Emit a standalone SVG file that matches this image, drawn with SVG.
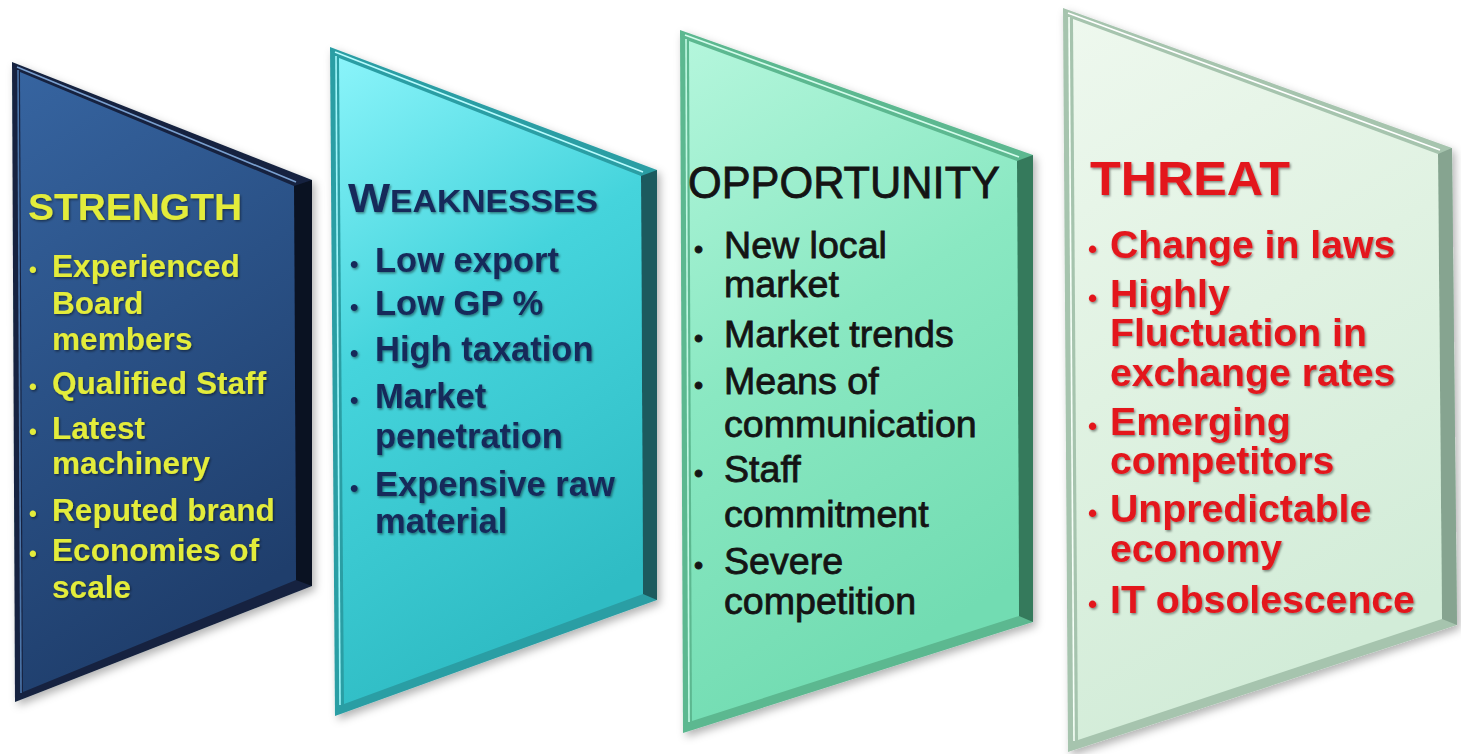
<svg xmlns="http://www.w3.org/2000/svg" width="1461" height="754" viewBox="0 0 1461 754">
<defs>
<style>
.t1{font-family:"Liberation Sans",Arial,sans-serif;font-weight:bold;fill:#e3ec3a}
.t2{font-family:"Liberation Sans",Arial,sans-serif;font-weight:bold;fill:#15295a}
.t3{font-family:"Liberation Sans",Arial,sans-serif;fill:#141414;stroke:#141414;stroke-width:0.8}
.t4{font-family:"Liberation Sans",Arial,sans-serif;font-weight:bold;fill:#e3191f}
.hl{fill:none;stroke-width:1.6}
</style>
<linearGradient id="g1" x1="0" y1="0" x2="0.3" y2="1">
<stop offset="0" stop-color="#3664a0"/><stop offset="0.5" stop-color="#2a5186"/><stop offset="1" stop-color="#1f3e6c"/>
</linearGradient>
<linearGradient id="g2" x1="0" y1="0" x2="0.3" y2="1">
<stop offset="0" stop-color="#8af4fa"/><stop offset="0.45" stop-color="#45d4dc"/><stop offset="1" stop-color="#2fbcc4"/>
</linearGradient>
<linearGradient id="g3" x1="0" y1="0" x2="0.3" y2="1">
<stop offset="0" stop-color="#b4f6dc"/><stop offset="0.5" stop-color="#8ae8c2"/><stop offset="1" stop-color="#72dcb2"/>
</linearGradient>
<linearGradient id="g4" x1="0" y1="0" x2="0.3" y2="1">
<stop offset="0" stop-color="#eef8ee"/><stop offset="0.5" stop-color="#e0f2e2"/><stop offset="1" stop-color="#d2ecd8"/>
</linearGradient>
<filter id="sh" x="-10%" y="-10%" width="130%" height="130%">
<feDropShadow dx="3" dy="4" stdDeviation="4" flood-color="#000" flood-opacity="0.3"/>
</filter>
<filter id="ts" x="-5%" y="-10%" width="115%" height="130%">
<feDropShadow dx="1.2" dy="1.5" stdDeviation="0.8" flood-color="#000" flood-opacity="0.45"/>
</filter>
</defs>
<rect width="1461" height="754" fill="#ffffff"/>

<g id="strength">
<polygon points="12,62 312,180 312,586 15,702" fill="#14243f" filter="url(#sh)"/>
<polygon points="294,186 312,180 312,586 296,580" fill="#0a1222"/>
<polygon points="20,72 294,186 296,580 23,692" fill="url(#g1)"/>
<polyline class="hl" points="17,67 296,182" stroke="#7aa0d0"/>
<polyline class="hl" points="18,70 21,693" stroke="#4c76aa"/>
<g filter="url(#ts)">
<text class="t1" x="28" y="220" font-size="37" textLength="214" lengthAdjust="spacingAndGlyphs">STRENGTH</text>
<g font-size="31.6">
<text class="t1" x="29" y="277" font-size="22">•</text>
<text class="t1" x="52" y="277">Experienced</text>
<text class="t1" x="52" y="314">Board</text>
<text class="t1" x="52" y="350">members</text>
<text class="t1" x="29" y="394" font-size="22">•</text>
<text class="t1" x="52" y="394">Qualified Staff</text>
<text class="t1" x="29" y="439" font-size="22">•</text>
<text class="t1" x="52" y="439">Latest</text>
<text class="t1" x="52" y="474">machinery</text>
<text class="t1" x="29" y="521" font-size="22">•</text>
<text class="t1" x="52" y="521">Reputed brand</text>
<text class="t1" x="29" y="561" font-size="22">•</text>
<text class="t1" x="52" y="561">Economies of</text>
<text class="t1" x="52" y="598">scale</text>
</g>
</g>
</g>

<g id="weaknesses">
<polygon points="330,47 657,170 657,600 335,716" fill="#2c9ea4" filter="url(#sh)"/>
<polygon points="641,176 657,170 657,600 643,594" fill="#1c5a5e"/>
<polygon points="339,58 641,176 643,594 344,704" fill="url(#g2)"/>
<polyline class="hl" points="335,52 643,172" stroke="#b8fcfe"/>
<polyline class="hl" points="336,56 340,705" stroke="#a0f6fa"/>
<g filter="url(#ts)">
<text class="t2" x="348" y="212" textLength="250" lengthAdjust="spacingAndGlyphs"><tspan font-size="41">W</tspan><tspan font-size="31">EAKNESSES</tspan></text>
<g font-size="34.5">
<text class="t2" x="350" y="272" font-size="24">•</text>
<text class="t2" x="375" y="272">Low export</text>
<text class="t2" x="350" y="315" font-size="24">•</text>
<text class="t2" x="375" y="315">Low GP %</text>
<text class="t2" x="350" y="361" font-size="24">•</text>
<text class="t2" x="375" y="361">High taxation</text>
<text class="t2" x="350" y="408" font-size="24">•</text>
<text class="t2" x="375" y="408">Market</text>
<text class="t2" x="375" y="448">penetration</text>
<text class="t2" x="350" y="496" font-size="24">•</text>
<text class="t2" x="375" y="496">Expensive raw</text>
<text class="t2" x="375" y="533">material</text>
</g>
</g>
</g>

<g id="opportunity">
<polygon points="680,30 1033,155 1033,622 683,733" fill="#5cb890" filter="url(#sh)"/>
<polygon points="1017,161 1033,155 1033,622 1019,616" fill="#357a5c"/>
<polygon points="689,41 1017,161 1019,616 692,721" fill="url(#g3)"/>
<polyline class="hl" points="685,35 1019,157" stroke="#d4fcec"/>
<polyline class="hl" points="686,39 689,722" stroke="#c0f8e2"/>
<text class="t3" x="688" y="198" font-size="44" textLength="312" lengthAdjust="spacingAndGlyphs">OPPORTUNITY</text>
<g font-size="37.6">
<text class="t3" x="694" y="258" font-size="26">•</text>
<text class="t3" x="724" y="258">New local</text>
<text class="t3" x="724" y="297">market</text>
<text class="t3" x="694" y="347" font-size="26">•</text>
<text class="t3" x="724" y="347">Market trends</text>
<text class="t3" x="694" y="394" font-size="26">•</text>
<text class="t3" x="724" y="394">Means of</text>
<text class="t3" x="724" y="437">communication</text>
<text class="t3" x="694" y="482" font-size="26">•</text>
<text class="t3" x="724" y="482">Staff</text>
<text class="t3" x="724" y="527">commitment</text>
<text class="t3" x="694" y="574" font-size="26">•</text>
<text class="t3" x="724" y="574">Severe</text>
<text class="t3" x="724" y="614">competition</text>
</g>
</g>

<g id="threat">
<polygon points="1063,8 1452,148 1457,625 1068,752" fill="#a6c4ae" filter="url(#sh)"/>
<polygon points="1438,154 1452,148 1457,625 1442,619" fill="#86a490"/>
<polygon points="1073,19 1438,154 1442,619 1078,740" fill="url(#g4)"/>
<polyline class="hl" points="1068,13 1440,150" stroke="#ffffff"/>
<polyline class="hl" points="1069,17 1074,741" stroke="#f6fff8"/>
<g filter="url(#ts)">
<text class="t4" x="1090" y="195" font-size="48" textLength="200" lengthAdjust="spacingAndGlyphs">THREAT</text>
<g font-size="39.2">
<text class="t4" x="1088" y="258" font-size="26">•</text>
<text class="t4" x="1110" y="258">Change in laws</text>
<text class="t4" x="1088" y="307" font-size="26">•</text>
<text class="t4" x="1110" y="307">Highly</text>
<text class="t4" x="1110" y="346">Fluctuation in</text>
<text class="t4" x="1110" y="386">exchange rates</text>
<text class="t4" x="1088" y="435" font-size="26">•</text>
<text class="t4" x="1110" y="435">Emerging</text>
<text class="t4" x="1110" y="474">competitors</text>
<text class="t4" x="1088" y="522" font-size="26">•</text>
<text class="t4" x="1110" y="522">Unpredictable</text>
<text class="t4" x="1110" y="562">economy</text>
<text class="t4" x="1088" y="613" font-size="26">•</text>
<text class="t4" x="1110" y="613">IT obsolescence</text>
</g>
</g>
</g>

<g id="connectors"></g>
</svg>
